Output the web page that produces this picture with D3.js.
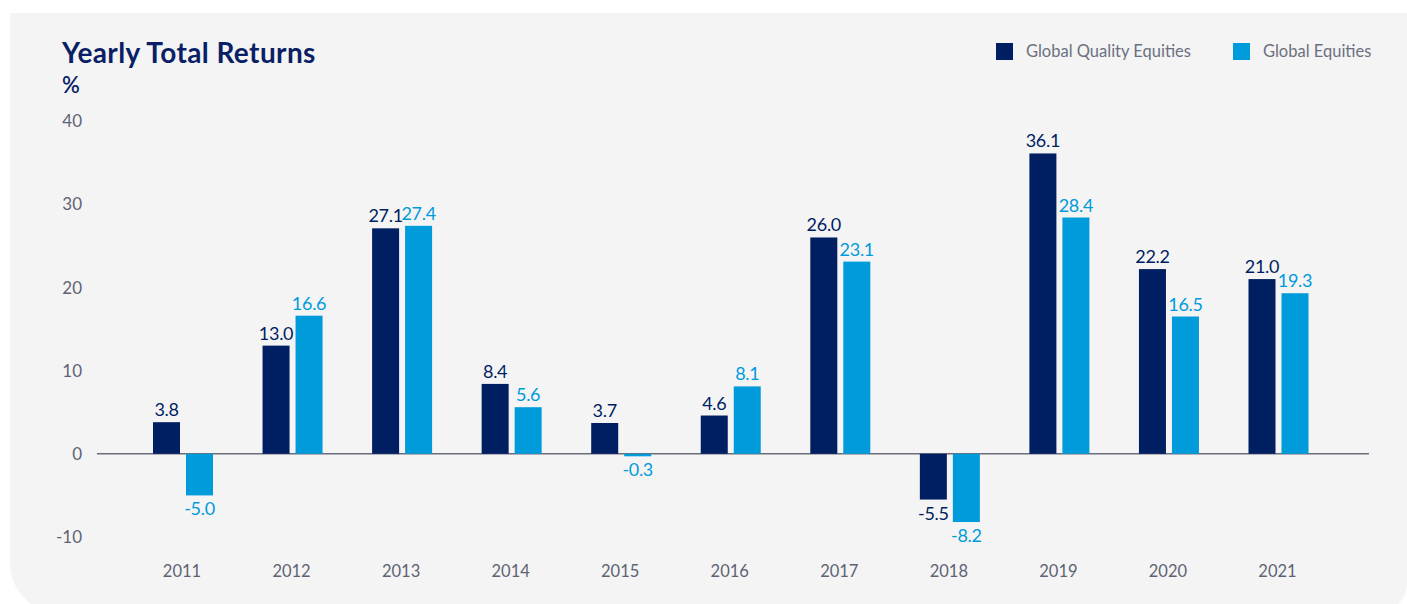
<!DOCTYPE html>
<html>
<head>
<meta charset="utf-8">
<script src="https://cdn.jsdelivr.net/npm/d3@7"></script>
<style>
  html, body { margin: 0; padding: 0; background: #ffffff; }
  svg { display: block; }
  text { font-family: Lato, "Open Sans", sans-serif; }
</style>
</head>
<body>
<svg id="chart" width="1407" height="604"></svg>
<script>
const years = ["2011","2012","2013","2014","2015","2016","2017","2018","2019","2020","2021"];
const qualityEquities = [3.8, 13.0, 27.1, 8.4, 3.7, 4.6, 26.0, -5.5, 36.1, 22.2, 21.0];
const globalEquities = [-5.0, 16.6, 27.4, 5.6, -0.3, 8.1, 23.1, -8.2, 28.4, 16.5, 19.3];
const yTicks = [-10, 0, 10, 20, 30, 40];
const seriesNames = ["Global Quality Equities", "Global Equities"];

const DARK = "#001e62";
const LIGHT = "#009bdb";
const GRAY = "#5e6373";

const svg = d3.select("#chart");

// background panel
const L = 10, T = 13, R = 1407, B = 613, rl = 50, rr = 30;
svg.append("path")
  .attr("d", `M${L},${T} H${R} V${B - rr} A${rr},${rr} 0 0 1 ${R - rr},${B} H${L + rl} A${rl},${rl} 0 0 1 ${L},${B - rl} Z`)
  .attr("fill", "#f4f4f4");

const x = d3.scalePoint().domain(years).range([183, 1278.5]);
const y = d3.scaleLinear().domain([-10, 40]).range([537, 121]);

const barW = 27, gap = 3;

// title
svg.append("text").attr("x", 62).attr("y", 63)
  .attr("fill", "#0b1f66").attr("font-size", 28).attr("font-weight", 700)
  .attr("letter-spacing", 0.4)
  .text("Yearly Total Returns");
svg.append("text").attr("x", 62).attr("y", 93)
  .attr("fill", "#0b1f66").attr("font-size", 22).attr("font-weight", 600)
  .text("%");

// y tick labels
svg.append("g").selectAll("text").data(yTicks).join("text")
  .attr("x", 82).attr("y", d => y(d)).attr("dy", "0.36em")
  .attr("text-anchor", "end").attr("fill", GRAY).attr("font-size", 17)
  .text(d => d);

// zero line
svg.append("line").attr("x1", 97).attr("x2", 1369)
  .attr("y1", y(0)).attr("y2", y(0))
  .attr("stroke", "#6a6e7a").attr("stroke-width", 1.6);

// bars
const series = [
  { name: seriesNames[0], values: qualityEquities, color: DARK, off: -gap - barW },
  { name: seriesNames[1], values: globalEquities, color: LIGHT, off: gap }
];

series.forEach(s => {
  const g = svg.append("g");
  g.selectAll("rect").data(years).join("rect")
    .attr("x", (d) => x(d) + s.off)
    .attr("width", barW)
    .attr("y", (d, i) => Math.min(y(s.values[i]), y(0)))
    .attr("height", (d, i) => Math.abs(y(s.values[i]) - y(0)))
    .attr("fill", s.color);
  g.selectAll("text").data(years).join("text")
    .attr("x", d => x(d) + s.off + barW / 2)
    .attr("y", (d, i) => s.values[i] >= 0 ? y(s.values[i]) - 6 : y(s.values[i]) + 20)
    .attr("text-anchor", "middle")
    .attr("fill", s.color).attr("font-size", 18)
    .attr("letter-spacing", -0.3)
    .text((d, i) => s.values[i].toFixed(1));
});

// year labels
svg.append("g").selectAll("text").data(years).join("text")
  .attr("x", d => x(d) - 1).attr("y", 577)
  .attr("text-anchor", "middle").attr("fill", GRAY).attr("font-size", 16.5)
  .text(d => d);

// legend
const legendX = [996, 1233];
series.forEach((s, i) => {
  svg.append("rect").attr("x", legendX[i]).attr("y", 43).attr("width", 17).attr("height", 17).attr("fill", s.color);
  svg.append("text").attr("x", legendX[i] + 30).attr("y", 57)
    .attr("fill", "#6b7080").attr("font-size", 16.5)
    .text(s.name);
});
</script>
</body>
</html>
